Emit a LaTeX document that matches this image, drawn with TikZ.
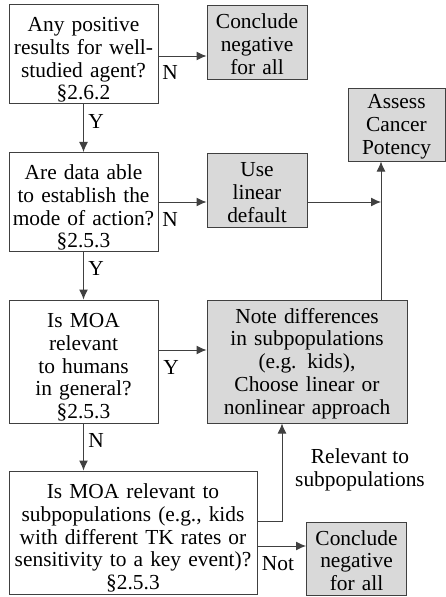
\documentclass[tikz,border=0pt]{standalone}
\usepackage{fontspec}
\setmainfont{Liberation Serif}
\usetikzlibrary{positioning,arrows.meta}

\begin{document}
\begin{tikzpicture}[
        box/.style={rectangle, draw=black!75, line width=1pt, text centered, align=center, inner sep=1pt, font=\fontsize{21.4}{22.8}\selectfont},
        question/.style={box, fill=white, execute at begin node={\rule{0pt}{26pt}}},
        result/.style={box, fill=black!15, execute at begin node={\rule{0pt}{19pt}}},
        answer/.style={inner sep=0pt, align=center, font=\fontsize{21.4}{22.8}\selectfont},
        flow/.style={-{Latex[length=10pt,width=9pt]}, line width=1pt, draw=black!75},
    ]
    \useasboundingbox (0pt,0pt) rectangle (446pt,-597pt);

    \node[question, minimum width=149pt, minimum height=98pt, text width=147pt] (agent) at (83.5pt,-54pt) {Any positive\\results for well-\\studied agent?\\\S2.6.2};
    \node[result, minimum width=100pt, minimum height=74pt, text width=98pt] (neg1) at (257pt,-42pt) {Conclude\\negative\\for all};
    \node[result, minimum width=97pt, minimum height=73pt, text width=95pt] (assess) at (396.5pt,-124.5pt) {Assess\\Cancer\\Potency};
    \node[question, minimum width=149pt, minimum height=98pt, text width=147pt] (moa) at (83.5pt,-202pt) {Are data able\\to establish the\\mode of action?\\\S2.5.3};
    \node[result, minimum width=100pt, minimum height=74pt, text width=98pt] (linear) at (257pt,-190pt) {Use\\linear\\default};
    \node[question, minimum width=149pt, minimum height=123pt, text width=147pt] (human) at (83.5pt,-361.5pt) {Is MOA\\relevant\\to humans\\in general?\\\S2.5.3};
    \node[result, minimum width=200pt, minimum height=123pt, text width=198pt] (note) at (307pt,-361.5pt) {Note differences\\in subpopulations\\(e.g. kids),\\Choose linear or\\nonlinear approach};
    \node[question, minimum width=248pt, minimum height=123pt, text width=246pt] (subpop) at (133pt,-532.5pt) {Is MOA relevant to\\subpopulations (e.g., kids\\with different TK rates or\\sensitivity to a key event)?\\\S2.5.3};
    \node[result, minimum width=100pt, minimum height=73pt, text width=98pt] (neg2) at (356.5pt,-558.5pt) {Conclude\\negative\\for all};

    \coordinate (riser) at ([xshift=74pt]note.north);

    \node[answer] (n1) at (170pt,-72pt) {N};
    \node[answer] (y1) at (96pt,-121pt) {Y};
    \node[answer] (n2) at (170pt,-219pt) {N};
    \node[answer] (y2) at (96pt,-268pt) {Y};
    \node[answer] (y3) at (171pt,-367pt) {Y};
    \node[answer] (n3) at (96pt,-440pt) {N};
    \node[answer] (rel) at (360pt,-470pt) {Relevant to\\subpopulations};
    \node[answer] (not) at (278pt,-564pt) {Not};

    \draw[flow] ([yshift=-2pt]agent.east) -- ([yshift=-2pt]agent.east -| neg1.west);
    \draw[flow] (agent.south) -- (moa.north);
    \draw[flow] (moa.east) -- (moa.east -| linear.west);
    \draw[flow] (linear.east |- moa.east) -- (riser |- moa.east);
    \draw[flow] (riser) -- (riser |- assess.south);
    \draw[flow] (moa.south) -- (human.north);
    \draw[flow] ([yshift=11.5pt]human.east) -- ([yshift=11.5pt]human.east -| note.west);
    \draw[flow] (human.south) -- (human.south |- subpop.north);
    \draw[flow] ([yshift=11.5pt]subpop.east) -| ([xshift=-25pt]note.south);
    \draw[flow] ([yshift=-13.5pt]subpop.east) -- ([yshift=-13.5pt]subpop.east -| neg2.west);
\end{tikzpicture}
\end{document}
